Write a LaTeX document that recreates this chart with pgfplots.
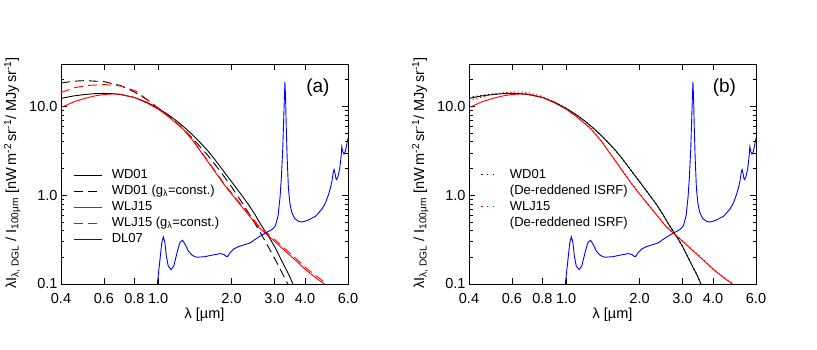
\documentclass[border=0pt]{standalone}
\usepackage{fontspec}
\setmainfont{Liberation Sans}
\usepackage{pgfplots}
\usepackage{pgfplotstable}
\pgfplotsset{compat=1.18}

\pgfplotstableread{
x y
0.4 12.3
0.45 13.1
0.5 13.6
0.55 13.9
0.6 14.0
0.65 13.9
0.7 13.6
0.8 12.6
0.9 11.1
1.0 9.5
1.1 8.05
1.2 6.75
1.3 5.6
1.4 4.65
1.5 3.82
1.6 3.15
1.7 2.57
1.8 2.08
1.87 1.81
2.0 1.42
2.2 1.0
2.35 0.78
2.5 0.6
2.62 0.48
2.75 0.39
2.88 0.32
3.0 0.265
3.13 0.21
3.3 0.157
3.45 0.124
3.57 0.1
3.62 0.092
}\wdsolid

\pgfplotstableread{
x y
0.4 18.3
0.45 19.2
0.5 19.5
0.6 19.0
0.7 17.2
0.8 14.5
0.9 11.9
1.0 9.6
1.1 7.87
1.2 6.42
1.4 4.24
1.6 2.80
1.8 1.855
2.0 1.24
2.2 0.839
2.4 0.573
2.6 0.396
2.8 0.276
3.0 0.195
3.2 0.139
3.4 0.0999
3.45 0.092
}\wddash

\pgfplotstableread{
x y
0.4 9.7
0.45 11.2
0.5 12.3
0.55 13.1
0.6 13.6
0.65 13.8
0.7 13.7
0.8 12.6
0.9 10.9
1.0 9.3
1.1 7.7
1.2 6.3
1.27 5.5
1.4 4.0
1.5 3.05
1.6 2.38
1.7 1.88
1.8 1.51
1.87 1.30
2.0 1.03
2.2 0.745
2.4 0.556
2.56 0.447
2.7 0.39
2.8 0.358
3.05 0.29
3.3 0.238
3.6 0.192
4.02 0.145
4.4 0.119
4.8 0.1
4.95 0.093
}\wlsolid

\pgfplotstableread{
x y
0.4 14.3
0.457 16.3
0.516 17.2
0.606 17.6
0.709 16.9
0.81 14.9
0.93 11.2
1.0 9.5
1.1 7.8
1.2 6.4
1.27 5.55
1.4 4.05
1.5 3.1
1.6 2.42
1.7 1.92
1.8 1.54
1.87 1.33
2.0 1.06
2.2 0.77
2.4 0.58
2.56 0.465
2.8 0.375
3.05 0.305
3.3 0.252
3.6 0.203
4.02 0.153
4.4 0.126
4.8 0.105
4.95 0.098
5.0 0.095
}\wldash

\pgfplotstableread{
x y
0.99 0.095
1.0 0.12
1.02 0.2
1.035 0.29
1.05 0.34
1.065 0.3
1.08 0.21
1.1 0.16
1.13 0.145
1.16 0.16
1.2 0.235
1.23 0.295
1.26 0.31
1.29 0.28
1.33 0.235
1.38 0.21
1.44 0.2
1.55 0.203
1.69 0.213
1.8 0.22
1.86 0.215
1.9 0.205
1.93 0.205
1.97 0.225
2.04 0.248
2.13 0.263
2.38 0.29
2.57 0.335
2.75 0.375
2.93 0.41
3.02 0.45
3.1 0.58
3.16 0.95
3.2 1.6
3.24 3.2
3.27 7
3.29 12
3.31 18.8
3.33 12
3.35 6
3.38 2.6
3.42 1.2
3.47 0.8
3.53 0.64
3.62 0.55
3.77 0.505
3.9 0.5
4.1 0.52
4.42 0.58
4.7 0.7
4.85 0.82
5.0 1.03
5.1 1.25
5.16 1.45
5.22 1.8
5.26 1.95
5.3 1.8
5.35 1.55
5.39 1.5
5.45 1.6
5.55 2.0
5.62 2.7
5.66 3.5
5.71 3.1
5.78 2.9
5.85 3.1
5.93 3.7
6.0 4.4
}\dlseven

\pgfplotstableread{
x y
0.4 12.6
0.45 13.3
0.5 13.8
0.55 14.05
0.6 14.1
0.65 14.0
0.7 13.65
0.8 12.6
0.9 11.1
1.0 9.5
1.1 8.05
1.2 6.75
1.3 5.6
1.4 4.65
1.5 3.82
1.6 3.15
1.7 2.57
1.8 2.08
1.87 1.81
2.0 1.42
2.2 1.0
2.35 0.78
2.5 0.6
2.62 0.48
2.75 0.39
2.88 0.32
3.0 0.265
3.13 0.21
3.3 0.157
3.45 0.124
3.57 0.1
3.62 0.092
}\wddot

\pgfplotstableread{
x y
0.4 11.7
0.45 12.7
0.5 13.6
0.55 14.2
0.6 14.5
0.65 14.6
0.7 14.3
0.8 12.9
0.9 11.0
1.0 9.4
1.1 7.75
1.2 6.35
1.27 5.55
1.4 4.05
1.5 3.08
1.6 2.4
1.7 1.9
1.8 1.53
1.87 1.32
2.0 1.04
2.2 0.755
2.4 0.563
2.56 0.453
2.7 0.395
2.8 0.363
3.05 0.294
3.3 0.242
3.6 0.195
4.02 0.147
4.4 0.121
4.8 0.102
4.95 0.095
}\wldot

\pgfplotsset{
  every axis/.append style={
    width=287pt, height=220pt, scale only axis,
    xmin=0.4, xmax=6.0, ymin=0.1, ymax=30,
    xtick={0.4,0.6,0.8,1,2,3,4,6},
    xticklabels={0.4,0.6,0.8,1.0,2.0,3.0,4.0,6.0},
    minor xtick={},
    ytick={0.1,1,10},
    yticklabels={0.1,1.0,10.0},
    minor ytick={0.2,0.3,0.4,0.5,0.6,0.7,0.8,0.9,2,3,4,5,6,7,8,9,20},
    tick align=inside,
    major tick length=6pt, minor tick length=3.5pt,
    tick style={black, line width=0.5pt},
    axis line style={line width=0.6pt},
    ticklabel style={font=\fontsize{14.5}{17}\selectfont},
    xticklabel style={yshift=-6pt},
    xlabel style={at={(axis description cs:0.5,-0.141)}, anchor=center, font=\fontsize{14.5}{17}\selectfont},
    ylabel style={at={(axis description cs:-0.17,0.505)}, anchor=center, font=\fontsize{14.5}{17}\selectfont},
    legend cell align=left,
    legend style={draw=none, fill=none, anchor=north west, inner sep=0pt,
      font=\fontsize{13}{15}\selectfont, row sep=0.5pt,
      nodes={inner ysep=1pt, inner xsep=1pt, text height=10pt, text depth=3.5pt}},
  },
}
\tikzset{
  wd/.style={black, line width=0.9pt},
  wdd/.style={black, line width=0.9pt, dash pattern=on 9pt off 5pt},
  wl/.style={red, line width=0.9pt},
  wld/.style={red, line width=0.9pt, dash pattern=on 9pt off 5pt},
  dl/.style={blue, line width=0.9pt},
  wdo/.style={black, line width=1pt, dash pattern=on 1.2pt off 2.6pt},
  wlo/.style={red, line width=1pt, dash pattern=on 1.2pt off 2.6pt},
}

\begin{document}
\begin{tikzpicture}
\path[use as bounding box] (0,0) rectangle (817pt,350pt);

% ---------------- panel (a)
\begin{loglogaxis}[at={(61pt,66pt)}, anchor=south west,
  xlabel={λ [µm]},
  ylabel={λI\textsubscript{λ, DGL} / I\textsubscript{100µm} [nW\,m\textsuperscript{-2}\,sr\textsuperscript{-1}/ MJy\,sr\textsuperscript{-1}]},
  legend style={at={(axis description cs:0.042,0.532)}, column sep=9pt},
  legend image code/.code={\draw[#1, line width=0.55pt] (0pt,0pt) -- (28pt,0pt);}]
\addplot[wd] table[x=x,y=y] {\wdsolid};
\addlegendentry{WD01}
\addplot[wdd] table[x=x,y=y] {\wddash};
\addlegendentry{WD01 (g\textsubscript{λ}=const.)}
\addplot[wl] table[x=x,y=y] {\wlsolid};
\addlegendentry{WLJ15}
\addplot[wld] table[x=x,y=y] {\wldash};
\addlegendentry{WLJ15 (g\textsubscript{λ}=const.)}
\addplot[dl] table[x=x,y=y] {\dlseven};
\addlegendentry{DL07}
\node[font=\fontsize{19}{22}\selectfont] at (axis description cs:0.895,0.895) {(a)};
\end{loglogaxis}

% ---------------- panel (b)
\begin{loglogaxis}[at={(469pt,66pt)}, anchor=south west,
  xlabel={λ [µm]},
  ylabel={λI\textsubscript{λ, DGL} / I\textsubscript{100µm} [nW\,m\textsuperscript{-2}\,sr\textsuperscript{-1}/ MJy\,sr\textsuperscript{-1}]},
  legend style={at={(axis description cs:0.041,0.532)}, column sep=11pt},
  legend image code/.code={\draw[#1, dash pattern=on 1.2pt off 4.5pt] (0pt,0pt) -- (16pt,0pt);}]
\addplot[dl, forget plot] table[x=x,y=y] {\dlseven};
\addplot[wd, forget plot] table[x=x,y=y] {\wdsolid};
\addplot[wl, forget plot] table[x=x,y=y] {\wlsolid};
\addplot[wdo] table[x=x,y=y] {\wddot};
\addlegendentry{WD01}
\addlegendimage{empty legend}
\addlegendentry{(De-reddened ISRF)}
\addplot[wlo] table[x=x,y=y] {\wldot};
\addlegendentry{WLJ15}
\addlegendimage{empty legend}
\addlegendentry{(De-reddened ISRF)}
\node[font=\fontsize{19}{22}\selectfont] at (axis description cs:0.89,0.895) {(b)};
\end{loglogaxis}
\end{tikzpicture}
\end{document}
